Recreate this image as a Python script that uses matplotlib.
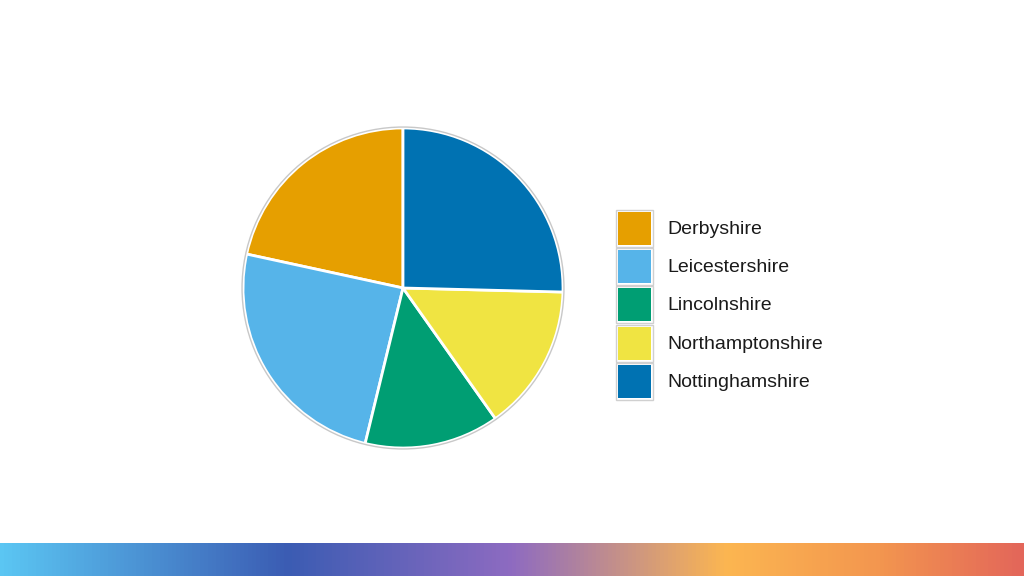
import numpy as np
import matplotlib
from matplotlib import pyplot as plt
from matplotlib.patches import Rectangle, Circle
from matplotlib.colors import LinearSegmentedColormap

plt.rcParams['font.family'] = ['Liberation Sans', 'DejaVu Sans']

# data (percent share)
counties = ['Derbyshire', 'Leicestershire', 'Lincolnshire', 'Northamptonshire', 'Nottinghamshire']
shares = [21.6, 24.6, 13.6, 14.8, 25.4]
colours = ['#E69F00', '#56B4E9', '#009E73', '#F0E442', '#0072B2']

W, H = 1024, 576
fig = plt.figure(figsize=(W / 100, H / 100), dpi=100)

# pie axes: centre (403, 288) px, radius 160 px
pad = 1.05
r_px = 160
side = 2 * pad * r_px
ax = fig.add_axes([(403 - side / 2) / W, (288 - side / 2) / H, side / W, side / H])
ax.pie(shares, colors=colours, startangle=90, counterclock=True,
       wedgeprops=dict(edgecolor='white', linewidth=2))
ax.add_patch(Circle((0, 0), 1.006, fill=False, edgecolor='#c8c8c8', linewidth=1))
ax.set_xlim(-pad, pad)
ax.set_ylim(-pad, pad)
ax.set_aspect('equal')
ax.axis('off')

# legend drawn by hand so the boxes match the reference size
lg = fig.add_axes([0, 0, 1, 1], facecolor='none')
lg.set_xlim(0, W)
lg.set_ylim(H, 0)
lg.axis('off')
pitch = 38.4
for i, (name, col) in enumerate(zip(counties, colours)):
    top = 209.5 + i * pitch
    lg.add_patch(Rectangle((615.5, top), 37, 37, facecolor='white',
                           edgecolor='#d0d0d0', linewidth=1))
    lg.add_patch(Rectangle((617.5, top + 2), 33, 33, facecolor=col, edgecolor='none'))
    lg.text(667, top + 19.5, name, fontsize=14, color='#1a1a1a',
            va='center', ha='left')

# gradient strip along the bottom
cmap = LinearSegmentedColormap.from_list('strip', [
    (0.0, '#5BC6F3'), (0.28, '#3B5CB3'), (0.5, '#8E6BC1'),
    (0.71, '#FCB651'), (0.86, '#F3964F'), (1.0, '#E3665A')])
gx = fig.add_axes([0, 0, 1, 33 / H])
gx.imshow(np.linspace(0, 1, 512).reshape(1, -1), cmap=cmap, aspect='auto',
          extent=(0, 1, 0, 1))
gx.axis('off')

plt.savefig('out.png', dpi=100)
